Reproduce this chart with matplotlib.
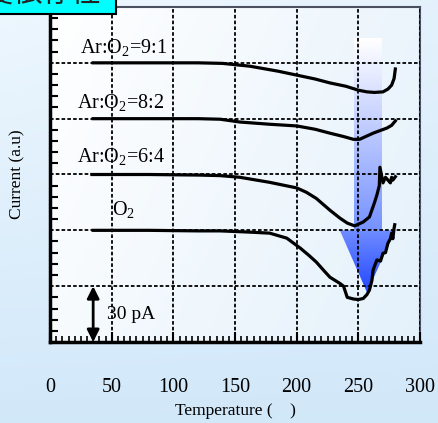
import numpy as np
import matplotlib
matplotlib.use("Agg")
from matplotlib import pyplot as plt
from matplotlib.colors import LinearSegmentedColormap, to_rgb
from matplotlib.patches import Polygon, Rectangle
from matplotlib.ticker import MultipleLocator

plt.rcParams['font.family'] = ['Liberation Serif', 'DejaVu Serif']
plt.rcParams['mathtext.fontset'] = 'custom'
plt.rcParams['mathtext.rm'] = 'Liberation Serif'
plt.rcParams['mathtext.default'] = 'regular'

# --- data (temperature, offset current in grid units) ---
x_91 = [35, 80, 120, 140, 162, 185, 200, 215, 227, 240, 250, 257, 263, 270, 274, 277, 279, 280]
y_91 = [5.0, 5.0, 5.0, 4.99, 4.94, 4.85, 4.78, 4.71, 4.64, 4.58, 4.51, 4.48, 4.47, 4.48, 4.53, 4.60, 4.72, 4.89]

x_82 = [35, 80, 120, 138, 154, 178, 200, 215, 227, 238, 246, 251, 256, 262, 268, 273, 277, 280]
y_82 = [4.0, 4.0, 4.0, 3.99, 3.94, 3.90, 3.87, 3.81, 3.74, 3.68, 3.63, 3.63, 3.68, 3.74, 3.79, 3.83, 3.88, 3.96]

x_64 = [34, 80, 120, 138, 154, 178, 200, 208, 216, 227, 235, 241, 247, 254, 259, 263, 265, 267, 267.5, 270, 272, 274, 276, 277, 278, 280]
y_64 = [3.0, 3.0, 2.99, 2.98, 2.95, 2.86, 2.76, 2.68, 2.57, 2.36, 2.22, 2.13, 2.08, 2.15, 2.24, 2.49, 2.63, 2.80, 3.13, 2.85, 2.95, 2.90, 2.85, 2.95, 2.90, 2.96]

x_o2 = [35, 80, 120, 138, 160, 178, 192, 203, 210, 216, 222, 227, 235, 238, 241, 246, 250, 254, 257, 259, 261, 262, 265, 268, 270, 272, 274, 276, 277, 278, 279, 279.5]
y_o2 = [2.0, 2.0, 1.99, 1.99, 1.97, 1.95, 1.86, 1.68, 1.55, 1.43, 1.28, 1.16, 1.05, 1.00, 0.80, 0.77, 0.76, 0.78, 0.85, 0.93, 1.10, 1.29, 1.47, 1.45, 1.59, 1.60, 1.77, 1.85, 1.95, 1.85, 2.04, 2.10]

labels = ["Ar:O$_2$=9:1", "Ar:O$_2$=8:2", "Ar:O$_2$=6:4", "O$_2$"]
label_x = [24, 22, 22, 50]
label_y = [5.18, 4.19, 3.22, 2.27]

x_ticks = [0, 50, 100, 150, 200, 250, 300]

W, H = 438, 423
fig = plt.figure(figsize=(W / 100, H / 100), dpi=100)

# background gradient of the slide
bg = fig.add_axes([0, 0, 1, 1], zorder=-10)
bg.axis("off")
yy, xx = np.mgrid[0:1:200j, 0:1:200j]
top, bot = np.array(to_rgb("#eef7fe")), np.array(to_rgb("#c8e3f8"))
t = np.clip(0.75 * yy + 0.25 * xx * (1 - yy), 0, 1)[..., None]
bg.imshow(top * (1 - t) + bot * t, extent=[0, 1, 0, 1], aspect="auto", origin="upper")
bg.set_xlim(0, 1)
bg.set_ylim(0, 1)

ax = fig.add_axes([50 / W, 1 - 342 / H, 370 / W, 335 / H])
ax.set_facecolor("none")

# inner plot gradient
white, light = np.array([1, 1, 1]), np.array(to_rgb("#e4f1fb"))
t2 = np.clip(0.7 * xx + 0.3 * yy, 0, 1)[..., None]
ax.imshow(white * (1 - t2) + light * t2, extent=[0, 300, 0, 6], aspect="auto", origin="upper", zorder=0)

# gradient arrow (shaft + head)
shaft_cmap = LinearSegmentedColormap.from_list("shaft", ["#7792ff", "#ffffff"])
g = np.linspace(0, 1, 100)[:, None]
ax.imshow(g, extent=[246.5, 268.4, 2.0, 5.43], cmap=shaft_cmap, aspect="auto", origin="lower", zorder=1)
head_cmap = LinearSegmentedColormap.from_list("head", ["#2448ff", "#6f8cff"])
head = ax.imshow(g, extent=[235, 280, 0.89, 2.0], cmap=head_cmap, aspect="auto", origin="lower", zorder=1)
tri = Polygon([[235, 2.0], [280, 2.0], [257, 0.89]], closed=True, transform=ax.transData)
head.set_clip_path(tri)

for xs, ys in [(x_91, y_91), (x_82, y_82), (x_64, y_64), (x_o2, y_o2)]:
    ax.plot(xs, ys, color="black", lw=2.3, zorder=4, solid_joinstyle="round")

for lab, lx, ly in zip(labels, label_x, label_y):
    ax.text(lx, ly, lab, fontsize=14.5, va="baseline", ha="left", zorder=5)

# 30 pA scale bar
ax.annotate("", xy=(35, 0.0), xytext=(35, 1.0),
            arrowprops=dict(arrowstyle="<|-|>", color="black", lw=2,
                            mutation_scale=18, shrinkA=0, shrinkB=0), zorder=5)
ax.text(46, 0.5, "30 pA", fontsize=14, va="center", ha="left", zorder=5)

ax.set_xlim(0, 300)
ax.set_ylim(0, 6)
ax.set_xticks(x_ticks)
ax.xaxis.set_minor_locator(MultipleLocator(5))
ax.set_yticks([1, 2, 3, 4, 5])
ax.set_yticklabels([])
ax.yaxis.set_minor_locator(MultipleLocator(0.2))
ax.tick_params(axis="x", which="major", direction="in", length=7, width=1.5, pad=26, labelsize=14.5)
ax.tick_params(axis="x", which="minor", direction="in", length=4, width=1.2)
ax.tick_params(axis="y", which="major", direction="in", length=0)
ax.tick_params(axis="y", which="minor", direction="in", length=6, width=1.5)
ax.grid(True, which="major", color="black", linestyle=(0, (2, 1.2)), lw=1.3, zorder=2)
ax.set_axisbelow(False)

for side in ["left", "bottom"]:
    ax.spines[side].set_linewidth(2.5)
    ax.spines[side].set_color("black")
for side in ["top", "right"]:
    ax.spines[side].set_linewidth(1.5)
    ax.spines[side].set_color("#4a5060")

ax.set_xlabel("Temperature (    )", fontsize=12.5, labelpad=4)
ax.set_ylabel("Current (a.u)", fontsize=12.5, labelpad=14)

# cut-off title box at the top-left
fig.patches.append(Rectangle((-0.01, 1 - 14 / H), 116 / W + 0.01, 0.05, transform=fig.transFigure,
                             facecolor="#00ffff", edgecolor="black", lw=1.5, zorder=20))
fig.text(101 / W, 1 - 3 / H, "温度依存性", fontsize=21, ha="right", va="baseline",
         family=["Noto Sans CJK JP", "DejaVu Sans"], color="#222222", zorder=21)

fig.savefig("out.png", dpi=100)
